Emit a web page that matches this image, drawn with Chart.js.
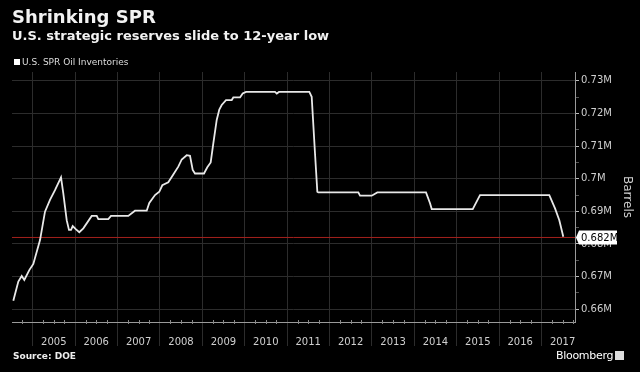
<!DOCTYPE html>
<html>
<head>
<meta charset="utf-8">
<title>Shrinking SPR</title>
<script src="https://cdn.jsdelivr.net/npm/chart.js@4.4.0/dist/chart.umd.min.js"></script>
<style>
    html, body { margin: 0; padding: 0; background: #000; }
    #wrap { position: relative; width: 640px; height: 372px; overflow: hidden; font-family: "DejaVu Sans", sans-serif; color: #fff; }
    #chart { position: absolute; left: 0; top: 0; }
    .txt { position: absolute; white-space: nowrap; }
    #title { left: 12px; top: 6px; font-size: 18px; font-weight: bold; color: #f2f2f2; }
    #subtitle { left: 12px; top: 28px; font-size: 13px; font-weight: bold; color: #f2f2f2; }
    #legend { left: 14px; top: 57px; font-size: 9px; color: #ddd; }
    #legend span { display: inline-block; width: 6px; height: 6px; background: #fff; margin-right: 2px; }
    #source { left: 13px; top: 351px; font-size: 9px; font-weight: bold; color: #eee; }
    #brand { left: 556px; top: 349px; font-size: 11px; color: #fff; letter-spacing: -0.3px; }
    #brand span { display: inline-block; width: 9px; height: 9px; background: #ddd; margin-left: 2px; vertical-align: -1px; }
</style>
</head>
<body>
<div id="wrap">
    <canvas id="chart" width="640" height="372"></canvas>
    <div class="txt" id="title">Shrinking SPR</div>
    <div class="txt" id="subtitle">U.S. strategic reserves slide to 12-year low</div>
    <div class="txt" id="legend"><span></span>U.S. SPR Oil Inventories</div>
    <div class="txt" id="source">Source: DOE</div>
    <div class="txt" id="brand">Bloomberg<span></span></div>
</div>
<script>
// ========================================
// Data
// ========================================
const dates = [2004.545, 2004.663, 2004.743, 2004.804, 2004.922, 2005.017, 2005.175, 2005.292, 2005.410, 2005.528,
    2005.670, 2005.724, 2005.804, 2005.858, 2005.906, 2005.946, 2006.024, 2006.101, 2006.196, 2006.394,
    2006.512, 2006.550, 2006.785, 2006.849, 2007.257, 2007.415, 2007.691, 2007.752, 2007.887, 2007.988,
    2008.059, 2008.200, 2008.318, 2008.436, 2008.517, 2008.634, 2008.712, 2008.776, 2008.830, 2009.042,
    2009.120, 2009.200, 2009.262, 2009.342, 2009.403, 2009.460, 2009.561, 2009.696, 2009.733, 2009.892,
    2009.955, 2010.033, 2010.717, 2010.758, 2010.811, 2011.526, 2011.582, 2011.660, 2011.715, 2011.738,
    2012.682, 2012.722, 2012.998, 2013.130, 2014.278, 2014.373, 2014.413, 2015.380, 2015.552, 2017.186,
    2017.321, 2017.422, 2017.516];

const inventories = [0.6626, 0.6685, 0.6702, 0.6690, 0.6720, 0.6739, 0.6812, 0.6899, 0.6935, 0.6965,
    0.7004, 0.6955, 0.6873, 0.6843, 0.6843, 0.6855, 0.6845, 0.6836, 0.6848, 0.6886,
    0.6886, 0.6876, 0.6876, 0.6886, 0.6886, 0.6902, 0.6902, 0.6926, 0.6950, 0.6960,
    0.6980, 0.6989, 0.7013, 0.7037, 0.7059, 0.7072, 0.7070, 0.7027, 0.7016, 0.7016,
    0.7035, 0.7050, 0.7108, 0.7180, 0.7212, 0.7226, 0.7241, 0.7241, 0.7249, 0.7249,
    0.7261, 0.7266, 0.7266, 0.7261, 0.7266, 0.7266, 0.7251, 0.7078, 0.6960, 0.6958,
    0.6958, 0.6948, 0.6948, 0.6958, 0.6958, 0.6925, 0.6907, 0.6907, 0.6950, 0.6950,
    0.6909, 0.6873, 0.6822];

const lastValue = 0.682;
const years = [2005, 2006, 2007, 2008, 2009, 2010, 2011, 2012, 2013, 2014, 2015, 2016, 2017];
const yMajorTicks = [0.66, 0.67, 0.68, 0.69, 0.70, 0.71, 0.72, 0.73];
const yMinorTicks = [0.665, 0.675, 0.685, 0.695, 0.705, 0.715, 0.725];

const xMin = 2004.514, xMax = 2017.792;
const yMin = 0.6561, yMax = 0.7327;

// ========================================
// Helpers
// ========================================
const isYear = v => years.includes(v);
const isMajorY = v => yMajorTicks.some(t => Math.abs(t - v) < 1e-6);

// small quarter marks on the x axis + the last value tag
const decorations = {
    id: 'decorations',
    afterDraw(chart) {
        const { ctx, scales: { x, y }, chartArea } = chart;
        ctx.save();
        ctx.strokeStyle = '#888';
        ctx.lineWidth = 1;
        const quarters = [2004.75];
        years.forEach(yr => quarters.push(yr + 0.25, yr + 0.5, yr + 0.75));
        quarters.forEach(q => {
            const px = Math.round(x.getPixelForValue(q)) + 0.5;
            ctx.beginPath();
            ctx.moveTo(px, chartArea.bottom - 2);
            ctx.lineTo(px, chartArea.bottom + 2);
            ctx.stroke();
        });

        // value tag
        const ty = y.getPixelForValue(lastValue);
        const left = chartArea.right + 4;
        ctx.fillStyle = '#fff';
        ctx.beginPath();
        ctx.moveTo(chartArea.right + 1, ty);
        ctx.lineTo(left, ty - 7);
        ctx.lineTo(left + 38, ty - 7);
        ctx.lineTo(left + 38, ty + 7);
        ctx.lineTo(left, ty + 7);
        ctx.closePath();
        ctx.fill();
        ctx.fillStyle = '#000';
        ctx.font = '10px "DejaVu Sans"';
        ctx.textBaseline = 'middle';
        ctx.fillText(lastValue + 'M', left + 2, ty + 0.5);
        ctx.restore();
    }
};

// ========================================
// Chart
// ========================================
new Chart(document.getElementById('chart'), {
    type: 'line',
    data: {
        datasets: [
            {
                label: 'U.S. SPR Oil Inventories',
                data: dates.map((d, i) => ({ x: d, y: inventories[i] })),
                borderColor: '#e8e8e8',
                borderWidth: 1.8,
                pointRadius: 0,
                tension: 0
            },
            {
                label: 'Last',
                data: [{ x: xMin, y: lastValue }, { x: xMax, y: lastValue }],
                borderColor: '#a3201c',
                borderWidth: 1,
                pointRadius: 0
            }
        ]
    },
    options: {
        responsive: false,
        animation: false,
        layout: { padding: { left: 12, top: 72, right: 0, bottom: 0 } },
        plugins: {
            legend: { display: false },
            tooltip: { enabled: false }
        },
        scales: {
            x: {
                type: 'linear',
                min: xMin,
                max: xMax,
                afterFit: s => { s.height = 50; },
                afterBuildTicks: s => {
                    const t = [];
                    years.forEach(yr => { t.push({ value: yr }); t.push({ value: yr + 0.5 }); });
                    s.ticks = t;
                },
                border: { display: true, color: '#9a9a9a', width: 1 },
                grid: {
                    color: c => isYear(c.tick.value) ? '#2c2c2c' : 'transparent',
                    tickColor: c => isYear(c.tick.value) ? '#2c2c2c' : 'transparent',
                    tickLength: 24
                },
                ticks: {
                    autoSkip: false,
                    maxRotation: 0,
                    padding: -10,
                    color: '#cfcfcf',
                    font: { family: 'DejaVu Sans', size: 10 },
                    callback: v => isYear(v) ? '' : String(Math.floor(v))
                }
            },
            y: {
                position: 'right',
                min: yMin,
                max: yMax,
                afterFit: s => { s.width = 65; },
                afterBuildTicks: s => {
                    s.ticks = yMajorTicks.concat(yMinorTicks).sort((a, b) => a - b).map(v => ({ value: v }));
                },
                border: { display: true, color: '#9a9a9a', width: 1 },
                grid: {
                    color: c => isMajorY(c.tick.value) ? '#2c2c2c' : 'transparent',
                    tickColor: c => isMajorY(c.tick.value) ? '#bbb' : '#555',
                    tickLength: 4
                },
                ticks: {
                    padding: 2,
                    color: '#cfcfcf',
                    font: { family: 'DejaVu Sans', size: 10 },
                    callback: v => isMajorY(v) ? parseFloat(v.toFixed(3)) + 'M' : ''
                },
                title: {
                    display: true,
                    text: 'Barrels',
                    color: '#cfcfcf',
                    font: { family: 'DejaVu Sans', size: 12 },
                    padding: { top: 6, bottom: 0 }
                }
            }
        }
    },
    plugins: [decorations]
});
</script>
</body>
</html>
